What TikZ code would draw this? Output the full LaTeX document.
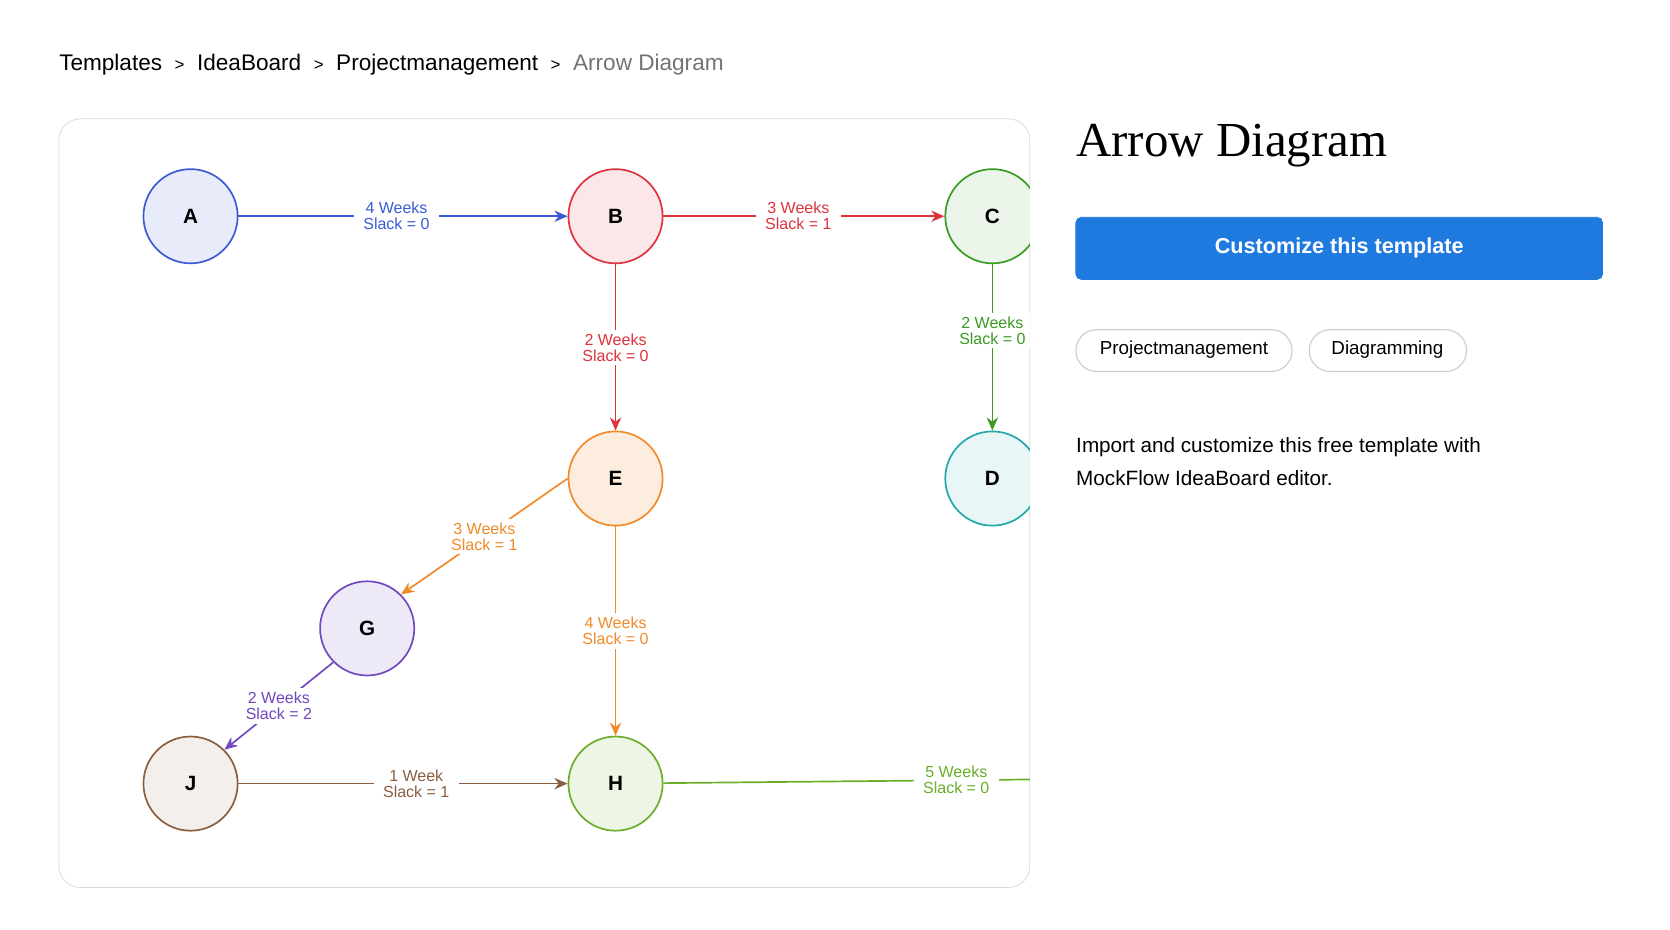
\documentclass[tikz,border=0pt]{standalone}
\usepackage{fontspec}
\setmainfont{Liberation Sans}
\newfontfamily\titlefont{Liberation Serif}
\usetikzlibrary{arrows.meta}
\definecolor{abl}{HTML}{3B5BD6}
\definecolor{bre}{HTML}{E0323C}
\definecolor{cgr}{HTML}{3A9A22}
\definecolor{eor}{HTML}{F08A2A}
\definecolor{gpu}{HTML}{7048C0}
\definecolor{jbr}{HTML}{8A5E40}
\definecolor{hgr}{HTML}{6AAE2A}
\definecolor{dcy}{HTML}{22A8A8}
\definecolor{btn}{HTML}{1F7AE0}
\tikzset{event/.style={circle, draw, line width=0.9pt, minimum size=1.76cm, inner sep=0pt, font=\fontsize{11}{13}\selectfont\bfseries, text=black},
weeks/.style={fill=white, inner xsep=5pt, inner ysep=2pt, align=center, font=\fontsize{8.5}{8.5}\selectfont},
act/.style={line width=0.9pt, -{Stealth[length=7pt,width=6pt]}},
tag/.style={draw=black!20, rounded corners=0.39cm, line width=0.6pt}}
\begin{document}
\begin{tikzpicture}[x=0.02cm, y=-0.02cm]
\useasboundingbox (0,0) rectangle (1560,868);

%% breadcrumb
\node[anchor=west, inner sep=0pt, font=\fontsize{12}{14}\selectfont] (crumb) at (55,60) {Templates \ {\small\textgreater}\ \ IdeaBoard \ {\small\textgreater}\ \ Projectmanagement \ {\small\textgreater}\ \ \textcolor{black!55}{Arrow Diagram}};

%% frame
\draw[black!15, rounded corners=0.4cm] (55,111) rectangle (962,829);

\begin{scope}
\clip[rounded corners=0.4cm] (55,111) rectangle (962,829);
\node[event, draw=abl, fill=abl!12] (A) at (178,202) {A};
\node[event, draw=bre, fill=bre!12] (B) at (575,202) {B};
\node[event, draw=cgr, fill=cgr!10] (C) at (927,202) {C};
\node[event, draw=dcy, fill=dcy!10] (D) at (927,447) {D};
\node[event, draw=eor, fill=eor!15] (E) at (575,447) {E};
\node[event, draw=gpu, fill=gpu!12] (G) at (343,587) {G};
\node[event, draw=jbr, fill=jbr!10] (J) at (178,732) {J};
\node[event, draw=hgr, fill=hgr!12] (H) at (575,732) {H};
\coordinate (Hout) at (975,728);

\draw[act, abl] (A) -- node[weeks, pos=0.48] {4 Weeks\\Slack = 0} (B);
\draw[act, bre] (B) -- node[weeks, pos=0.48] {3 Weeks\\Slack = 1} (C);
\draw[act, cgr] (C) -- node[weeks, pos=0.4] {2 Weeks\\Slack = 0} (D);
\draw[act, bre] (B) -- node[weeks, pos=0.5] {2 Weeks\\Slack = 0} (E);
\draw[act, eor] (E.west) -- node[weeks, pos=0.5] {3 Weeks\\Slack = 1} (G.north east);
\draw[act, eor] (E) -- node[weeks, pos=0.5] {4 Weeks\\Slack = 0} (H);
\draw[act, gpu] (G.south west) -- node[weeks, pos=0.5] {2 Weeks\\Slack = 2} (J.north east);
\draw[act, jbr] (J) -- node[weeks, pos=0.54] {1 Week\\Slack = 1} (H);
\draw[line width=0.9pt, hgr] (H) -- node[weeks, pos=0.77] {5 Weeks\\Slack = 0} (Hout);
\end{scope}

%% side panel
\node[anchor=west, inner sep=0pt, font=\titlefont\fontsize{26}{28}\selectfont] (title) at (1005,136) {Arrow Diagram};
\draw[fill=btn, draw=btn, rounded corners=0.1cm] (1005,203) rectangle (1497,261);
\node[text=white, font=\fontsize{11.5}{13}\selectfont\bfseries] (cta) at (1251,232) {Customize this template};
\draw[tag] (1005,308) rectangle (1207,347);
\node[font=\fontsize{10}{12}\selectfont] (tag1) at (1106,327) {Projectmanagement};
\draw[tag] (1223,308) rectangle (1370,347);
\node[font=\fontsize{10}{12}\selectfont] (tag2) at (1296,327) {Diagramming};
\node[anchor=north west, align=left, inner sep=0pt, font=\fontsize{11}{17.5}\selectfont] (blurb) at (1005,408) {Import and customize this free template with\\MockFlow IdeaBoard editor.};
\end{tikzpicture}
\end{document}
